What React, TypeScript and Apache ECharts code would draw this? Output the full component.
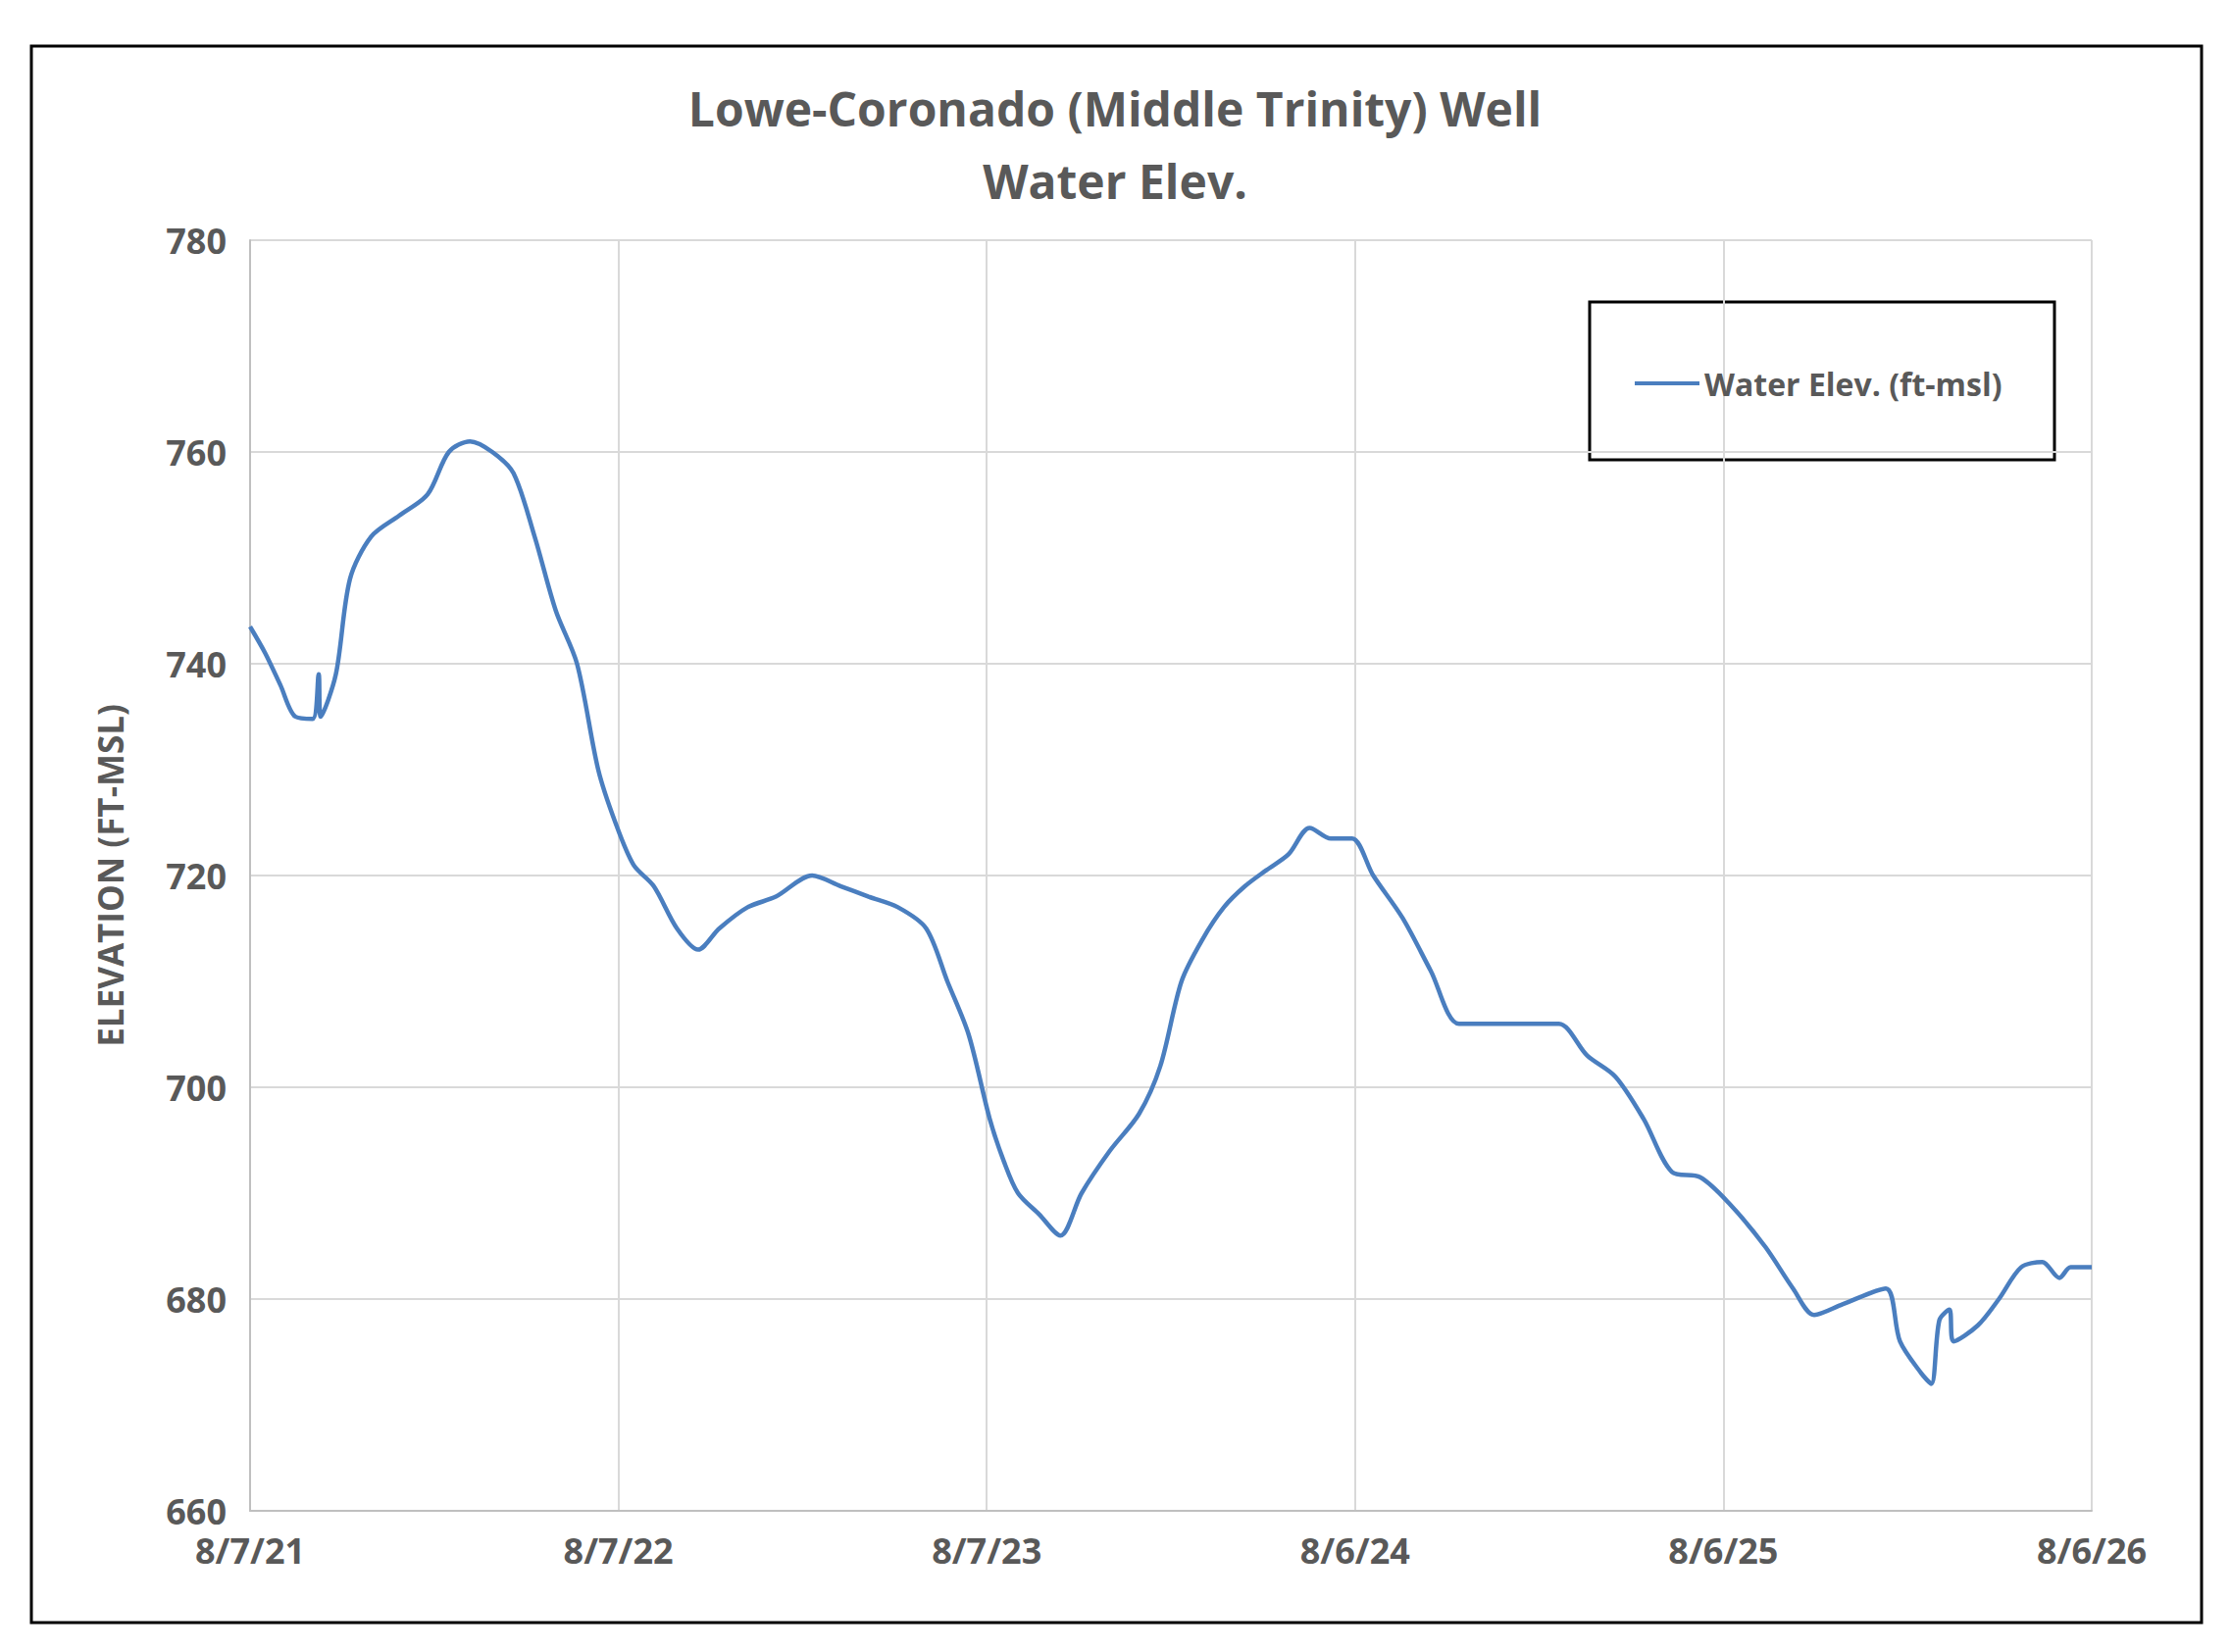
import { useEffect, useRef } from 'react';
import * as echarts from 'echarts';

// days since 8/7/21
const days = [0, 15, 30, 45, 62, 68, 70, 85, 99, 120, 148, 176, 197, 218, 240, 261, 282, 303, 324, 345, 362, 380, 400, 423, 444, 465, 493, 521, 557, 585, 613, 642, 670, 691, 712, 733, 747, 761, 782, 803, 824, 852, 881, 902, 923, 944, 965, 986, 1007, 1029, 1050, 1071, 1092, 1113, 1142, 1170, 1198, 1233, 1268, 1297, 1325, 1353, 1381, 1409, 1437, 1466, 1501, 1529, 1550, 1578, 1621, 1635, 1656, 1666, 1674, 1684, 1688, 1712, 1733, 1755, 1776, 1793, 1804, 1825];
const elev = [743.5, 741, 738, 735, 734.8, 739, 735, 739, 748, 752, 754, 756, 760, 761, 760, 758, 752, 745, 740, 730, 725, 721, 719, 715, 713, 715, 717, 718, 720, 719, 718, 717, 715, 710, 705, 697, 693, 690, 688, 686, 690, 694, 697.5, 702, 710, 714, 717, 719, 720.5, 722, 724.5, 723.5, 723.5, 720, 716, 711, 706, 706, 706, 706, 703, 701, 697, 692, 691.5, 689, 685, 681, 678.5, 679.5, 681, 676, 673, 672, 678, 679, 676, 677.5, 680, 683, 683.5, 682, 683, 683];
const tickLabels = ['8/7/21', '8/7/22', '8/7/23', '8/6/24', '8/6/25', '8/6/26'];

const FONT = '"Open Sans", sans-serif';
const GREY = '#595959';

export default function App() {
  const ref = useRef<HTMLDivElement>(null);

  useEffect(() => {
    document.body.style.margin = '0';
    if (!ref.current) return;
    const chart = echarts.init(ref.current, null, { renderer: 'svg' });
    chart.setOption({
      animation: false,
      backgroundColor: '#fff',
      textStyle: { fontFamily: FONT },
      title: {
        text: 'Lowe-Coronado (Middle Trinity) Well\nWater Elev.',
        left: 'center',
        top: 68,
        textStyle: { fontSize: 48, fontWeight: 'bold', color: GREY, lineHeight: 74, fontFamily: FONT },
      },
      graphic: [
        { type: 'rect', shape: { x: 32, y: 47, width: 2213, height: 1608 }, style: { fill: 'none', stroke: '#000', lineWidth: 3 } },
        { type: 'rect', shape: { x: 1621, y: 308, width: 474, height: 161 }, style: { fill: 'none', stroke: '#000', lineWidth: 3 } },
      ],
      legend: {
        left: 1662,
        top: 370,
        itemWidth: 66,
        itemHeight: 4,
        icon: 'rect',
        itemGap: 4,
        textStyle: { fontSize: 32, fontWeight: 'bold', color: GREY, fontFamily: FONT },
      },
      grid: { left: 255, right: 2274 - 2133, top: 245, bottom: 1685 - 1541 },
      xAxis: {
        type: 'value',
        min: 0,
        max: 1825,
        interval: 365,
        axisLine: { show: true, lineStyle: { color: '#bfbfbf', width: 2 } },
        axisTick: { show: false },
        splitLine: { lineStyle: { color: '#d9d9d9', width: 2 } },
        axisLabel: {
          fontSize: 36, fontWeight: 'bold', color: GREY, margin: 22,
          formatter: (v: number) => tickLabels[Math.round(v / 365)] ?? '',
        },
      },
      yAxis: {
        type: 'value',
        min: 660,
        max: 780,
        interval: 20,
        name: 'ELEVATION (FT-MSL)',
        nameLocation: 'middle',
        nameGap: 125,
        nameTextStyle: { fontSize: 35, fontWeight: 'bold', color: GREY, fontFamily: FONT },
        axisLine: { show: true, lineStyle: { color: '#bfbfbf', width: 2 } },
        axisTick: { show: false },
        splitLine: { lineStyle: { color: '#d9d9d9', width: 2 } },
        axisLabel: { fontSize: 36, fontWeight: 'bold', color: GREY, margin: 24 },
      },
      series: [
        {
          name: 'Water Elev. (ft-msl)',
          type: 'line',
          data: days.map((d, i) => [d, elev[i]]),
          showSymbol: false,
          smooth: 0.3,
          lineStyle: { color: '#4a7ebf', width: 4.5 },
          itemStyle: { color: '#4a7ebf' },
        },
      ],
    });
    return () => chart.dispose();
  }, []);

  return <div ref={ref} style={{ width: 2274, height: 1685 }} />;
}
